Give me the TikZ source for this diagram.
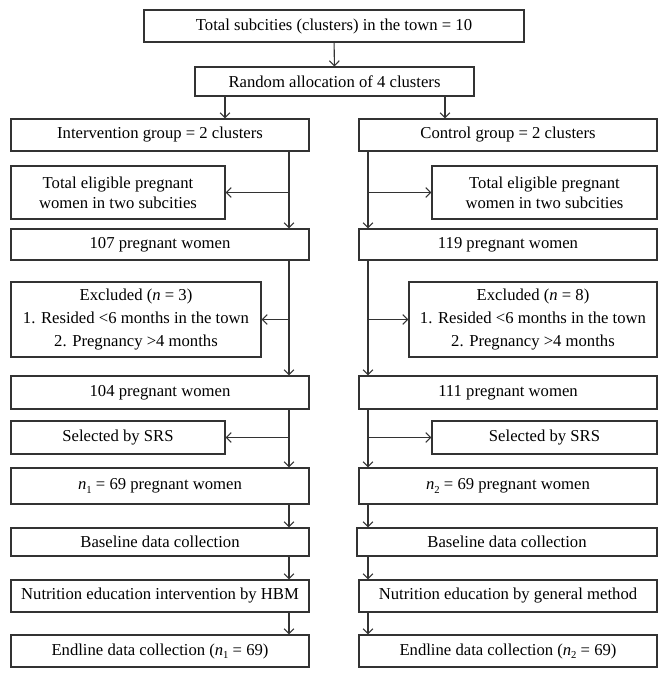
\documentclass[tikz,border=0pt]{standalone}
\usepackage{fontspec}
\setmainfont{Liberation Serif}
\usetikzlibrary{arrows.meta}
\definecolor{ln}{HTML}{333333}
\newcommand{\nsub}[1]{\textit{n}\raisebox{-0.45ex}{\footnotesize #1}}
\newcommand{\bx}[6]{\node[box,minimum width={(#4-#2)*0.75pt},minimum height={(#5-#3)*0.75pt}] (#1) at ({(#2+#4)/2},{(#3+#5)/2}) {#6};}
\tikzset{
  box/.style={draw=ln,line width=0.8pt,inner sep=0pt,align=center,font=\fontsize{12.5}{15}\selectfont,text=black},
  exbox/.style={box,font=\fontsize{12.5}{17}\selectfont},
  arr/.style={draw=ln,line width=0.8pt,-{Straight Barb[length=1.3mm,width=2.6mm]}}
}
\begin{document}
\begin{tikzpicture}[x=0.75pt,y=-0.75pt]
\useasboundingbox (0,0) rectangle (668,678);
\coordinate (la) at (225,0);
\coordinate (ra) at (445,0);
\coordinate (Lx) at (289,0);
\coordinate (Rx) at (368,0);
\bx{top}{144}{10}{524}{42}{Total subcities (clusters) in the town = 10}
\bx{rand}{195}{67}{474}{96}{Random allocation of 4 clusters}
\bx{int}{11}{119}{309}{151}{Intervention group = 2 clusters}
\bx{ctl}{359}{119}{657}{151}{Control group = 2 clusters}
\bx{eligL}{11}{166}{225}{219}{Total eligible pregnant\\women in two subcities}
\bx{eligR}{432}{166}{657}{219}{Total eligible pregnant\\women in two subcities}
\bx{pL}{11}{229}{309}{260}{107 pregnant women}
\bx{pR}{359}{229}{657}{260}{119 pregnant women}
\node[exbox,minimum width={(261-11)*0.75pt},minimum height={(357-282)*0.75pt}] (exL) at ({(11+261)/2},{(282+357)/2}) {Excluded (\textit{n} = 3)\\1. Resided <6 months in the town\\2. Pregnancy >4 months};
\node[exbox,minimum width={(657-409)*0.75pt},minimum height={(357-282)*0.75pt}] (exR) at ({(409+657)/2},{(282+357)/2}) {Excluded (\textit{n} = 8)\\1. Resided <6 months in the town\\2. Pregnancy >4 months};
\bx{qL}{11}{376}{309}{409}{104 pregnant women}
\bx{qR}{359}{376}{657}{409}{111 pregnant women}
\bx{sL}{11}{421}{225}{454}{Selected by SRS}
\bx{sR}{432}{421}{657}{454}{Selected by SRS}
\bx{nL}{11}{468}{309}{504}{\nsub{1} = 69 pregnant women}
\bx{nR}{359}{468}{657}{504}{\nsub{2} = 69 pregnant women}
\bx{bL}{11}{528}{309}{556}{Baseline data collection}
\bx{bR}{357}{528}{657}{556}{Baseline data collection}
\bx{eL}{11}{580}{309}{612}{Nutrition education intervention by HBM}
\bx{eR}{359}{580}{657}{612}{Nutrition education by general method}
\bx{fL}{11}{635}{309}{667}{Endline data collection (\nsub{1} = 69)}
\bx{fR}{359}{635}{657}{667}{Endline data collection (\nsub{2} = 69)}
% top connectors
\draw[arr] (top) -- (rand);
\draw[arr] (rand.south -| la) -- (int.north -| la);
\draw[arr] (rand.south -| ra) -- (ctl.north -| ra);
% left column
\draw[arr] (int.south -| Lx) -- (pL.north -| Lx);
\draw[arr] (eligL.east -| Lx) -- (eligL.east);
\draw[arr] (pL.south -| Lx) -- (qL.north -| Lx);
\draw[arr] (exL.east -| Lx) -- (exL.east);
\draw[arr] (qL.south -| Lx) -- (nL.north -| Lx);
\draw[arr] (sL.east -| Lx) -- (sL.east);
\draw[arr] (nL.south -| Lx) -- (bL.north -| Lx);
\draw[arr] (bL.south -| Lx) -- (eL.north -| Lx);
\draw[arr] (eL.south -| Lx) -- (fL.north -| Lx);
% right column
\draw[arr] (ctl.south -| Rx) -- (pR.north -| Rx);
\draw[arr] (eligR.west -| Rx) -- (eligR.west);
\draw[arr] (pR.south -| Rx) -- (qR.north -| Rx);
\draw[arr] (exR.west -| Rx) -- (exR.west);
\draw[arr] (qR.south -| Rx) -- (nR.north -| Rx);
\draw[arr] (sR.west -| Rx) -- (sR.west);
\draw[arr] (nR.south -| Rx) -- (bR.north -| Rx);
\draw[arr] (bR.south -| Rx) -- (eR.north -| Rx);
\draw[arr] (eR.south -| Rx) -- (fR.north -| Rx);
\end{tikzpicture}
\end{document}
